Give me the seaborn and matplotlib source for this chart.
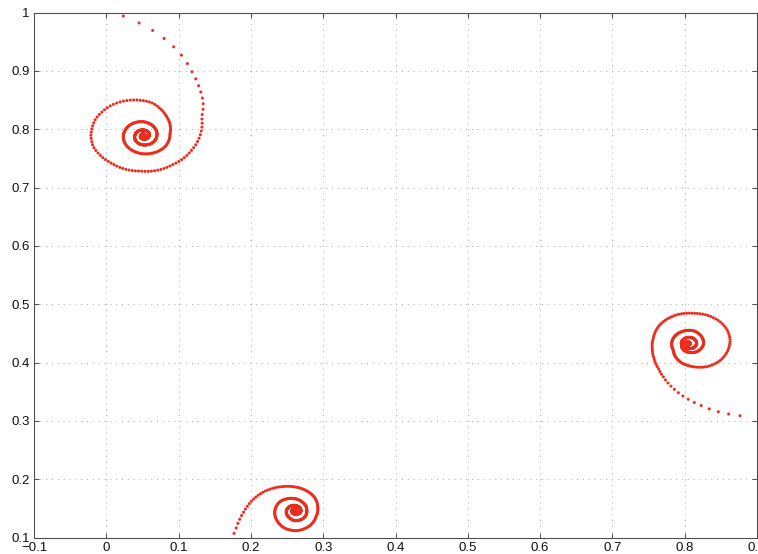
import numpy as np
import pandas as pd
import matplotlib
matplotlib.use("Agg")
import matplotlib.pyplot as plt
import seaborn as sns

# ---- tick values / labels ----
x_ticks = [-0.1, 0.0, 0.1, 0.2, 0.3, 0.4, 0.5, 0.6, 0.7, 0.8, 0.9]
x_tick_labels = ["\u22120.1", "0", "0.1", "0.2", "0.3", "0.4", "0.5", "0.6", "0.7", "0.8", "0.9"]
y_ticks = [0.1, 0.2, 0.3, 0.4, 0.5, 0.6, 0.7, 0.8, 0.9, 1.0]
y_tick_labels = ["0.1", "0.2", "0.3", "0.4", "0.5", "0.6", "0.7", "0.8", "0.9", "1"]

# ---- spiral 1 (top-left): convergence centre and points read along the trajectory ----
s1_center = (0.0512, 0.7888)
s1_x = [0.0235, 0.0743, 0.1029, 0.1185, 0.1286, 0.1342, 0.1319, 0.1181, 0.0905, 0.0466,
        0.0075, -0.0180, -0.0212, -0.0156, 0.0075, 0.0351, 0.0628, 0.0835, 0.0881, 0.0812,
        0.0628, 0.0397, 0.0235, 0.0328, 0.0512, 0.0674, 0.0697, 0.0628, 0.0443, 0.0397,
        0.0490, 0.0591]
s1_y = [0.9940, 0.9609, 0.9284, 0.8985, 0.8711, 0.8414, 0.8214, 0.7643, 0.7386, 0.7283,
        0.7415, 0.7700, 0.7871, 0.8157, 0.8414, 0.8500, 0.8454, 0.8214, 0.7929, 0.7700,
        0.7587, 0.7614, 0.7871, 0.8072, 0.8128, 0.8015, 0.7871, 0.7758, 0.7758, 0.7900,
        0.7986, 0.7929]

# ---- spiral 2 (bottom) ----
s2_center = (0.2610, 0.1464)
s2_x = [0.1766, 0.1804, 0.1840, 0.1895, 0.1964, 0.2033, 0.2126, 0.2264, 0.2426, 0.2586,
        0.2748, 0.2873, 0.2924, 0.2900, 0.2794, 0.2633, 0.2472, 0.2357, 0.2333, 0.2402,
        0.2564, 0.2703, 0.2772, 0.2725, 0.2610, 0.2517, 0.2495, 0.2564, 0.2656, 0.2689]
s2_y = [0.1073, 0.1186, 0.1301, 0.1426, 0.1558, 0.1656, 0.1747, 0.1830, 0.1872, 0.1872,
        0.1816, 0.1700, 0.1529, 0.1358, 0.1186, 0.1118, 0.1159, 0.1301, 0.1473, 0.1615,
        0.1673, 0.1615, 0.1473, 0.1330, 0.1289, 0.1358, 0.1473, 0.1546, 0.1529, 0.1443]

# ---- spiral 3 (right) ----
s3_center = (0.8050, 0.4318)
s3_x = [0.8765, 0.8627, 0.8512, 0.8405, 0.8304, 0.8212, 0.8119, 0.8028, 0.7935, 0.7842,
        0.7773, 0.7704, 0.7635, 0.7575, 0.7552, 0.7566, 0.7635, 0.7751, 0.7935, 0.8119,
        0.8304, 0.8488, 0.8589, 0.8627, 0.8589, 0.8488, 0.8304, 0.8119, 0.7935, 0.7842,
        0.7842, 0.7958, 0.8119, 0.8235, 0.8257, 0.8165, 0.8028, 0.7958, 0.8004, 0.8119,
        0.8165]
s3_y = [0.3089, 0.3113, 0.3140, 0.3181, 0.3221, 0.3272, 0.3324, 0.3387, 0.3461, 0.3558,
        0.3644, 0.3757, 0.3901, 0.4073, 0.4244, 0.4416, 0.4614, 0.4741, 0.4832, 0.4844,
        0.4815, 0.4700, 0.4558, 0.4386, 0.4186, 0.4032, 0.3929, 0.3929, 0.4014, 0.4215,
        0.4416, 0.4529, 0.4546, 0.4443, 0.4301, 0.4186, 0.4186, 0.4301, 0.4416, 0.4416,
        0.4318]


def trace(center, xs, ys):
    """Sample the trajectory (clockwise) through the read points, ending at the centre."""
    cx, cy = center
    dx = np.asarray(xs) - cx
    dy = np.asarray(ys) - cy
    ang = np.unwrap(np.arctan2(dy, dx))
    rad = np.hypot(dx, dy)
    ang = np.append(ang, ang[-1] - 2.5 * np.pi)
    rad = np.append(rad, 0.0015)
    lr = np.log(rad)
    th = ang[0]
    px, py = [], []
    while th > ang[-1]:
        r = np.exp(np.interp(-th, -ang, lr))
        px.append(cx + r * np.cos(th))
        py.append(cy + r * np.sin(th))
        th -= 0.075 * (r / 0.07) ** 0.3
    return px, py


frames = []
for name, c, xs, ys in [("s1", s1_center, s1_x, s1_y),
                        ("s2", s2_center, s2_x, s2_y),
                        ("s3", s3_center, s3_x, s3_y)]:
    px, py = trace(c, xs, ys)
    frames.append(pd.DataFrame({"x": px, "y": py, "spiral": name}))
df = pd.concat(frames, ignore_index=True)

sns.set_theme(style="white")
plt.rcParams["font.family"] = ["Liberation Sans", "DejaVu Sans"]

fig = plt.figure(figsize=(7.58, 5.54), dpi=100)
ax = fig.add_axes([34 / 758, 1 - 537.6 / 554, 723 / 758, 525.1 / 554])

red = "#ee2c1c"
sns.scatterplot(data=df, x="x", y="y", hue="spiral",
                palette=[red, red, red], s=4.8, linewidth=0, legend=False, ax=ax)

ax.set_xlim(-0.1, 0.9)
ax.set_ylim(0.1, 1.0)
ax.set_xticks(x_ticks)
ax.set_xticklabels(x_tick_labels)
ax.set_yticks(y_ticks)
ax.set_yticklabels(y_tick_labels)
ax.set_xlabel("")
ax.set_ylabel("")

ax.grid(True, linestyle=(0, (1, 5)), color="#a8a8a8", linewidth=0.7)
ax.set_axisbelow(True)
for sp in ax.spines.values():
    sp.set_visible(True)
    sp.set_color("#505050")
    sp.set_linewidth(0.8)
ax.tick_params(direction="in", length=3.8, width=0.7, color="#505050",
               top=True, right=True, bottom=True, left=True,
               labelsize=9.5, labelcolor="#111111", pad=3)

fig.savefig("out.png", dpi=100)
